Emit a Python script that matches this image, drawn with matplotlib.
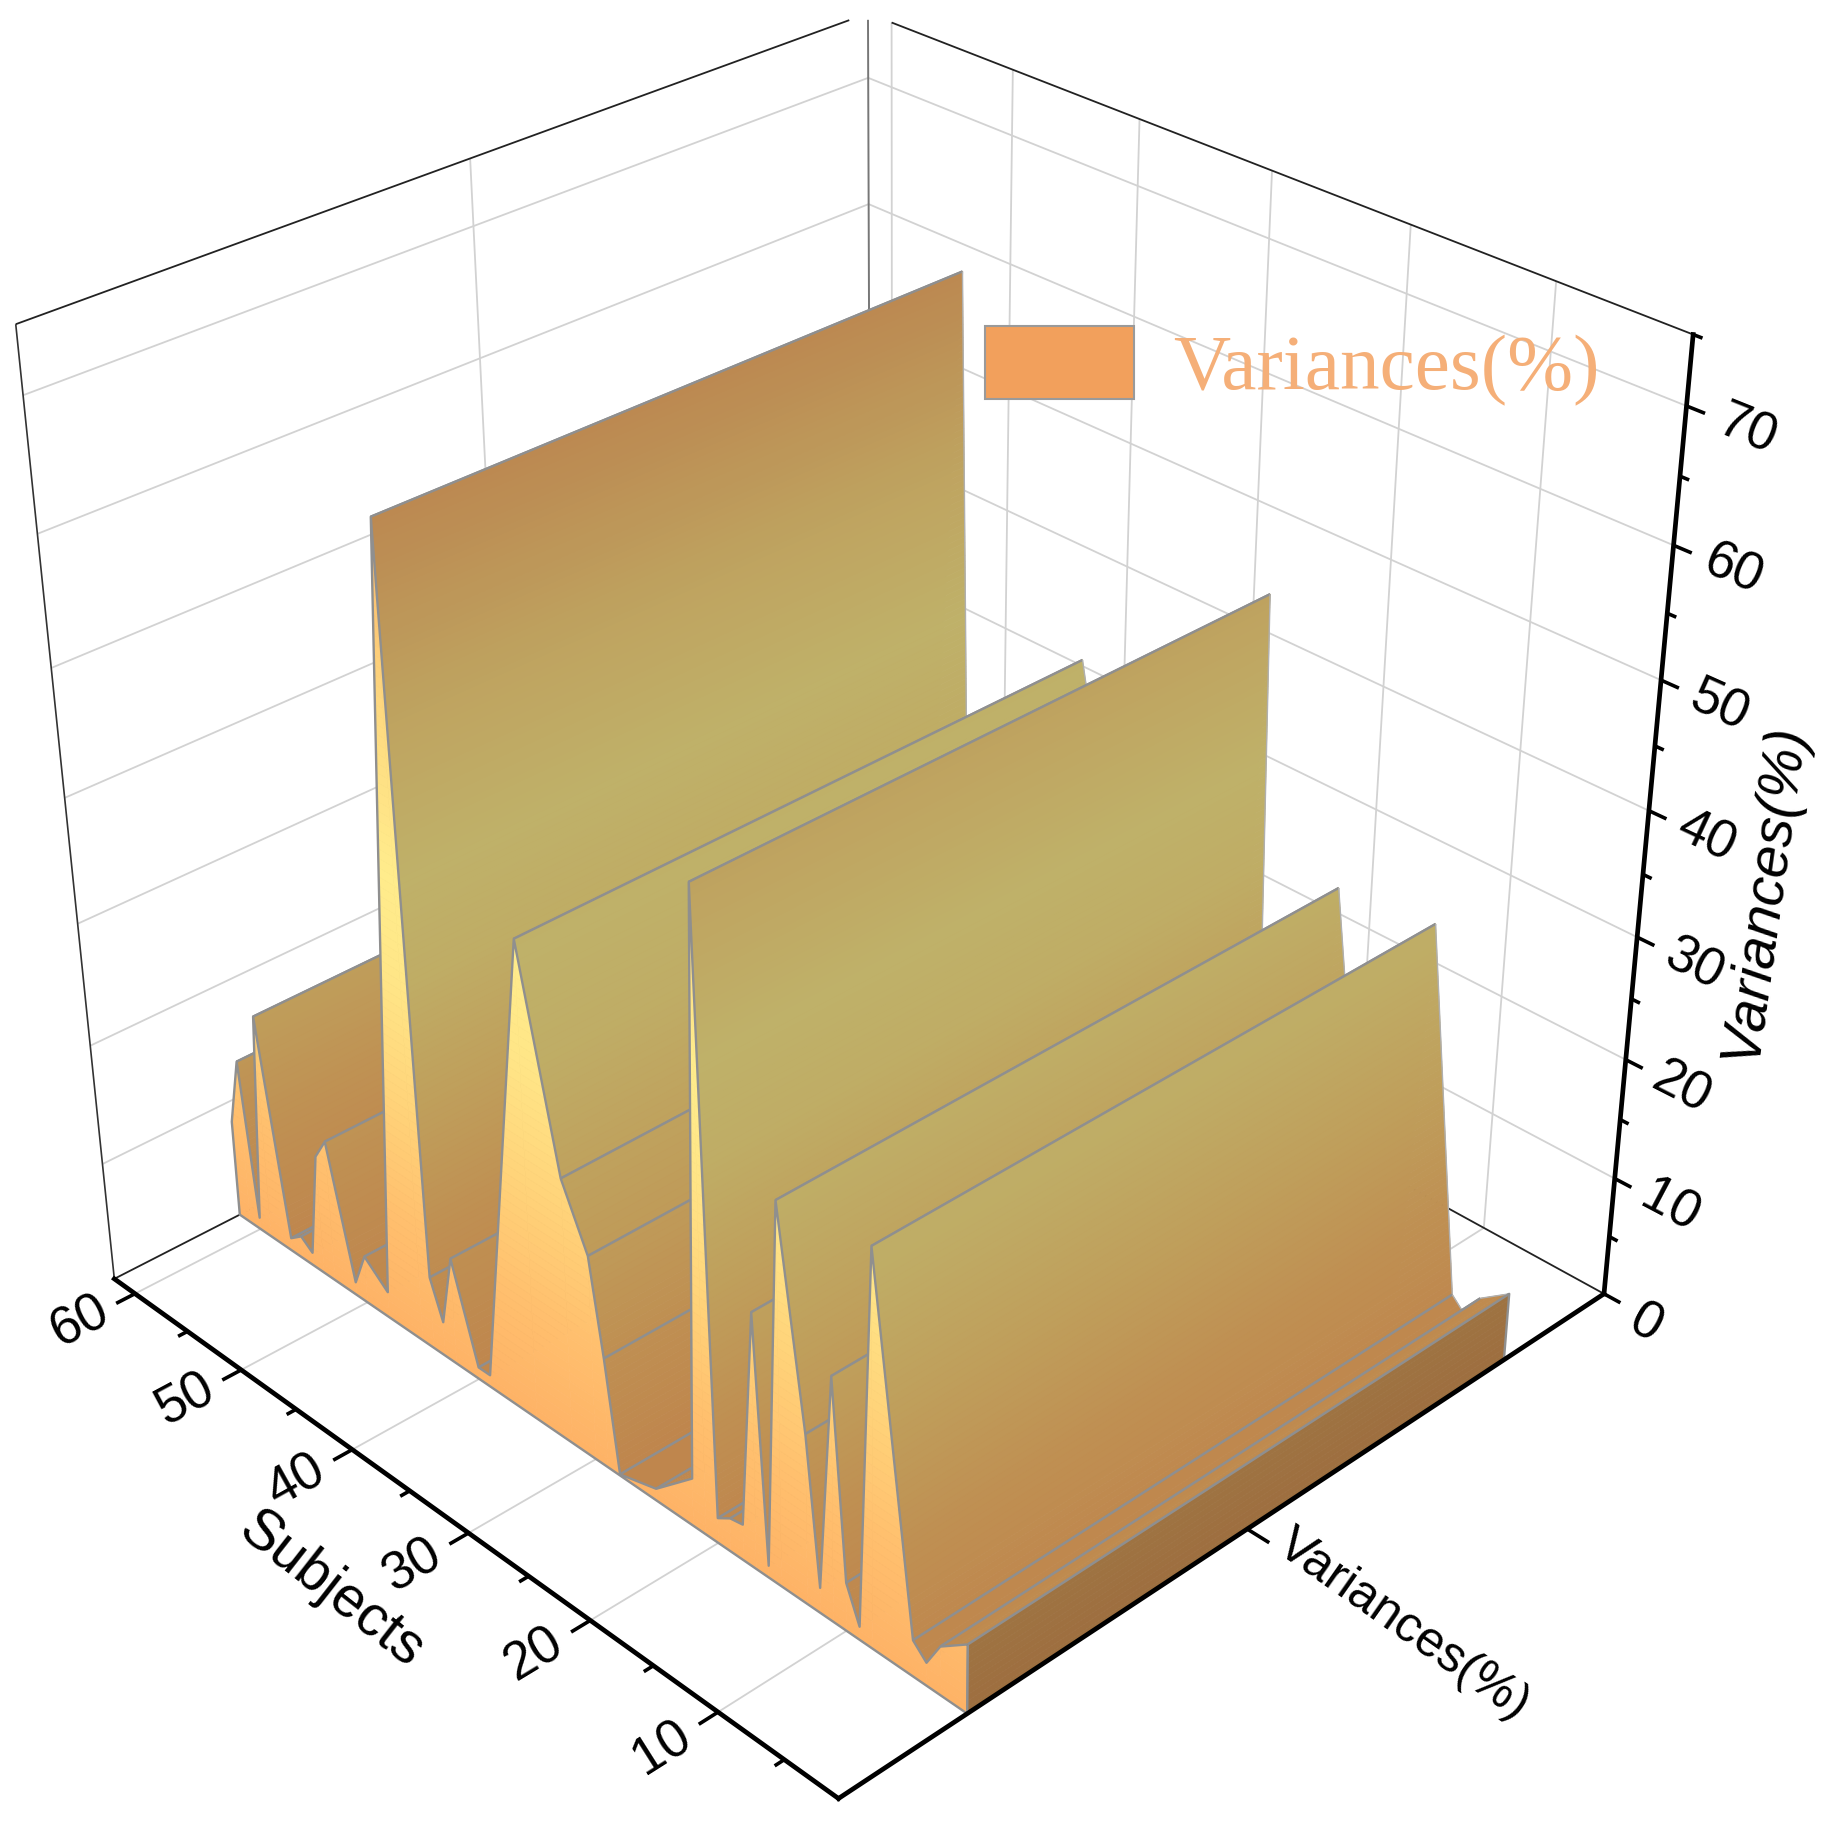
import numpy as np
import matplotlib
matplotlib.use("Agg")
import matplotlib.pyplot as plt
from matplotlib.patches import Patch
from mpl_toolkits.mplot3d.art3d import Poly3DCollection, Line3DCollection

# ---- data ----
subjects = [1, 3, 4, 5, 8, 9, 10, 11, 12, 13, 15, 16, 17, 18, 19, 20, 21, 22, 25, 28, 29,
            30, 32, 35, 39, 40, 42, 43, 44, 45, 48, 50, 51, 53, 54, 55, 56, 57, 59, 60, 61, 62]
variances = [5.7, 4.0, 1.9, 3.0, 32.0, 1.1, 4.0, 20.0, 2.1, 14.0, 31.0, 1.0, 21.0, 3.0, 2.8,
             2.1, 51.0, 4.0, 1.0, 0.1, 9.2, 17.0, 22.0, 39.0, 1.0, 1.0, 9.0, 2.9, 6.1, 65.0,
             2.2, 4.0, 1.1, 12.0, 10.1, 1.1, 1.9, 1.1, 19.0, 1.0, 14.0, 8.2]
y_major = [10, 20, 30, 40, 50, 60]
y_minor = [5, 15, 25, 35, 45, 55]
z_major = [0, 10, 20, 30, 40, 50, 60, 70]
z_minor = [5, 15, 25, 35, 45, 55, 65, 75]
series_name = "Variances(%)"

# ---- axis ranges and wall extent ----
XR = (0.0, 1.0); YR = (1.0, 62.0); ZR = (0.0, 75.0)
X0, X1 = 0.150, 0.853

W, H_PX = 1837, 1829
CAMERA = np.array([[1001.457455, -11.615067, -1.545661, 852.219208],
                   [-317.186466, -5.334501, -15.263948, 1808.339072],
                   [0.1459, 0.002507, -0.001719, 1.0]])

plt.rcParams['font.family'] = ['Liberation Sans', 'DejaVu Sans']
fig = plt.figure(figsize=(W / 100, H_PX / 100), dpi=100, facecolor='white')
ax = fig.add_axes([0, 0, 1, 1], projection='3d', computed_zorder=False)
ax.set_axis_off()
ax.apply_aspect = lambda position=None: None


def camera_proj():
    xl, xr = ax.viewLim.intervalx
    yb, yt = ax.viewLim.intervaly
    r0 = (xr - xl) / W * CAMERA[0] + xl * CAMERA[2]
    r1 = -(yt - yb) / H_PX * CAMERA[1] + yt * CAMERA[2]
    return np.array([r0, r1, [0.3, 0.003, 0.005, 0.1], CAMERA[2]])


ax.get_proj = camera_proj


def to_px(p):
    q = CAMERA @ np.array([p[0], p[1], p[2], 1.0])
    return q[:2] / q[2]


def label(pos, direction, text, size, **kw):
    a, b = to_px(pos), to_px(np.array(pos) + np.array(direction))
    angle = np.degrees(np.arctan2(-(b[1] - a[1]), b[0] - a[0]))
    fig.text(a[0] / W, 1 - a[1] / H_PX, text, fontsize=size, rotation=angle, ha='center', va='center', **kw)


# ---- colours: height-driven gradient ----
C_Z = [0, 10, 20, 30, 38, 50, 65, 75]
C_R = [254, 255, 255, 255, 255, 254, 250, 250]
C_G = [178, 192, 212, 230, 236, 218, 182, 180]
C_B = [102, 110, 122, 135, 140, 128, 108, 106]


def shade(z, k=1.0):
    return (np.interp(z, C_Z, C_R) / 255 * k, np.interp(z, C_Z, C_G) / 255 * k, np.interp(z, C_Z, C_B) / 255 * k)


GRID = '#d2d2d2'; EDGE = '#8f8f8f'; WALL_K = 0.75; CAP_K = 0.62


def line(xs, ys, zs, color, lw, zo, cap='butt'):
    seg = np.column_stack([np.broadcast_to(xs, np.shape(zs) if np.ndim(zs) else np.shape(xs)),
                           np.broadcast_to(ys, np.shape(zs) if np.ndim(zs) else np.shape(xs)),
                           zs])
    lc = Line3DCollection([seg], colors=[color], linewidths=lw, zorder=zo, capstyle=cap, joinstyle='round')
    ax.add_collection3d(lc, autolim=False)


# ---- grid ----
for v in z_major[1:]:
    line([XR[0], XR[1]], [YR[1], YR[1]], [v, v], GRID, 1.3, 1)
    line([XR[1], XR[1]], [YR[1], YR[0]], [v, v], GRID, 1.3, 1)
for v in y_major:
    line([XR[0], XR[1]], [v, v], [0, 0], GRID, 1.3, 1)
    line([XR[1], XR[1]], [v, v], [0, ZR[1]], GRID, 1.3, 1)
line([0.5, 0.5], [YR[1], YR[1]], [0, ZR[1]], GRID, 1.3, 1)

# ---- thin frame ----
line([0, 0], [YR[1], YR[1]], [0, ZR[1]], '#333333', 1.2, 2)
line([0, 0.975], [YR[1], YR[1]], [ZR[1], ZR[1]], '#222222', 1.3, 2)
line([1, 1], [YR[1] - 2.0, YR[0]], [ZR[1], ZR[1]], '#222222', 1.3, 2)
line([1, 1], [YR[1], YR[1]], [0, 74.5], '#777777', 1.4, 2)
line([0, 1], [YR[1], YR[1]], [0, 0], '#222222', 1.3, 2)
line([1, 1], [YR[1], YR[0]], [0, 0], '#222222', 1.3, 2)

# ---- walls, painted from far to near ----
zo = 10
ys_, zs_ = np.array(subjects, float), np.array(variances, float)
for i in range(len(ys_) - 2, -1, -1):
    ya, yb, za, zb = ys_[i + 1], ys_[i], zs_[i + 1], zs_[i]
    n = max(1, int(abs(zb - za) / 0.5))
    t = np.linspace(0, 1, n + 1)
    polys, cols = [], []
    for a, b in zip(t[:-1], t[1:]):
        y1, y2 = ya + (yb - ya) * a, ya + (yb - ya) * b
        z1, z2 = za + (zb - za) * a, za + (zb - za) * b
        polys.append([(X0, y1, z1), (X1, y1, z1), (X1, y2, z2), (X0, y2, z2)])
        cols.append(shade((z1 + z2) / 2, WALL_K))
    pc = Poly3DCollection(polys, facecolors=cols, edgecolors=cols, linewidths=0.5, zorder=zo)
    ax.add_collection3d(pc, autolim=False)
    zo += 1
    line([X0, X1], [ya, ya], [za, za], EDGE, 1.7, zo)
    line([X0, X1], [yb, yb], [zb, zb], EDGE, 1.7, zo)
    line([X1, X1], [ya, yb], [za, zb], '#b0b0b0', 1.0, zo)
    zo += 1


# ---- front face sliced in height bands ----
def clip(poly, level, keep_below):
    out = []
    for k in range(len(poly)):
        p, q = poly[k], poly[(k + 1) % len(poly)]
        pin = p[1] <= level if keep_below else p[1] >= level
        qin = q[1] <= level if keep_below else q[1] >= level
        if pin:
            out.append(p)
        if pin != qin:
            f = (level - p[1]) / (q[1] - p[1])
            out.append((p[0] + f * (q[0] - p[0]), level))
    return out


bands = np.arange(0, 76, 0.75)
polys, cols = [], []
for i in range(len(ys_) - 1):
    trap = [(ys_[i], 0.0), (ys_[i + 1], 0.0), (ys_[i + 1], zs_[i + 1]), (ys_[i], zs_[i])]
    for lo, hi in zip(bands[:-1], bands[1:]):
        if lo >= max(zs_[i], zs_[i + 1]):
            break
        pg = clip(clip(trap, hi, True), lo, False)
        if len(pg) >= 3:
            polys.append([(X0, a, b) for a, b in pg])
            cols.append(shade((lo + hi) / 2))
pc = Poly3DCollection(polys, facecolors=cols, edgecolors=cols, linewidths=0.5, zorder=zo)
ax.add_collection3d(pc, autolim=False)
zo += 1
line([X0] * (len(ys_) + 3), list(ys_) + [ys_[-1], ys_[0], ys_[0]], list(zs_) + [0, 0, zs_[0]], EDGE, 1.7, zo)
zo += 1

# ---- end cap at the first subject ----
polys, cols = [], []
zt = np.linspace(0, zs_[0], 12)
for a, b in zip(zt[:-1], zt[1:]):
    polys.append([(X0, ys_[0], a), (X1, ys_[0], a), (X1, ys_[0], b), (X0, ys_[0], b)])
    cols.append(shade((a + b) / 2, CAP_K))
pc = Poly3DCollection(polys, facecolors=cols, edgecolors=cols, linewidths=0.5, zorder=zo)
ax.add_collection3d(pc, autolim=False)
zo += 1
line([X0, X1, X1], [ys_[0]] * 3, [zs_[0], zs_[0], 0], EDGE, 1.7, zo)
line([X0, X0], [ys_[0]] * 2, [0, zs_[0]], EDGE, 1.7, zo)
zo += 1

# ---- axes ----
AX = '#000000'
line([XR[0], XR[1]], [YR[0], YR[0]], [0, 0], AX, 3.4, zo, 'projecting')
line([XR[0], XR[0]], [YR[0], YR[1]], [0, 0], AX, 3.4, zo, 'projecting')
line([XR[1], XR[1]], [YR[0], YR[0]], [0, ZR[1]], AX, 3.4, zo, 'projecting')
for v in y_major:
    line([0, -0.022], [v, v], [0, 0], AX, 2.6, zo)
for v in y_minor:
    line([0, -0.011], [v, v], [0, 0], AX, 2.6, zo)
for v in z_major:
    line([1, 1], [1, -0.2], [v, v], AX, 2.6, zo)
for v in z_minor:
    line([1, 1], [1, 0.4], [v, v], AX, 2.6, zo)
line([0.5, 0.5], [1, -0.6], [0, 0], AX, 2.6, zo)

LS = 38
for v in y_major:
    label((-0.064, v, 0), (1, 0, 0), str(v), LS)
for v in z_major:
    label((1, -2.9 if v else -2.1, v - (0 if v else 0.6)), (0, -1, 0), str(v), LS)

fig.text(331 / W, 1 - 1590 / H_PX, 'Subjects', fontsize=41, rotation=-38, ha='center', va='center')
fig.text(1403 / W, 1 - 1625 / H_PX, series_name, fontsize=36, rotation=-35, ha='center', va='center')
fig.text(1764 / W, 1 - 893 / H_PX, series_name, fontsize=41, rotation=82, ha='center', va='center', style='italic')

leg = ax.legend(handles=[Patch(facecolor='#f2a05c', edgecolor='#9a9a9a', linewidth=1.5, label=series_name)],
                loc='upper left', bbox_to_anchor=(985 / W, 1 - 326 / H_PX), bbox_transform=fig.transFigure,
                frameon=False, borderpad=0, borderaxespad=0, handlelength=149 / 79.2, handleheight=1.04,
                handletextpad=0.5, labelcolor='#f5af78',
                prop={'family': 'Liberation Serif', 'size': 57})
leg.set_zorder(100000)

fig.savefig('out.png', dpi=100)
